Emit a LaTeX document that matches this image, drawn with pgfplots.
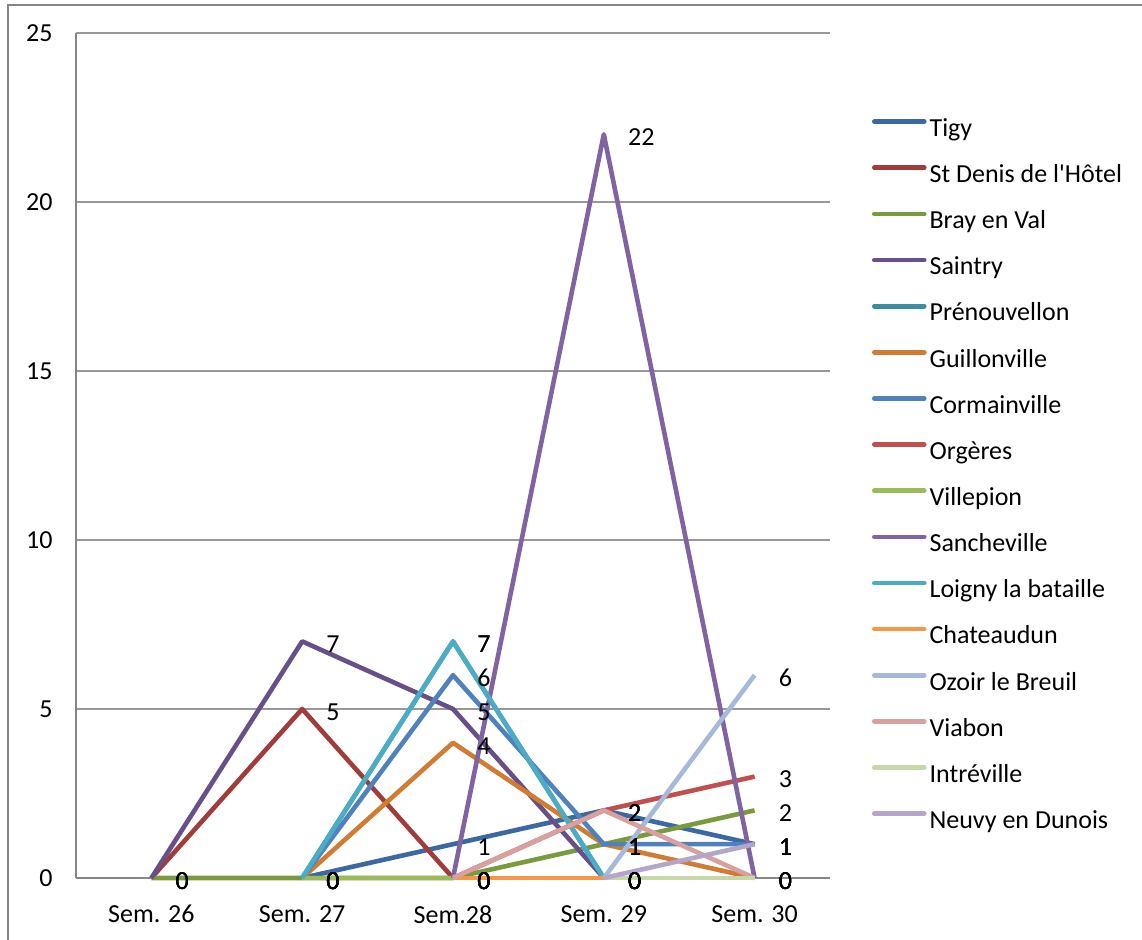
\documentclass[border=0pt]{standalone}
\usepackage{pgfplots}
\pgfplotsset{compat=1.18}
\usepackage{fontspec}
\setmainfont{Carlito}
\definecolor{cA}{HTML}{3A69A3}
\definecolor{cB}{HTML}{A03C3A}
\definecolor{cC}{HTML}{7A9A3E}
\definecolor{cD}{HTML}{674F87}
\definecolor{cE}{HTML}{3A8EA3}
\definecolor{cF}{HTML}{D07C33}
\definecolor{cG}{HTML}{4F81BD}
\definecolor{cH}{HTML}{C0504D}
\definecolor{cI}{HTML}{9BBB59}
\definecolor{cJ}{HTML}{8064A2}
\definecolor{cK}{HTML}{4BACC6}
\definecolor{cL}{HTML}{F79646}
\definecolor{cM}{HTML}{A7B9D9}
\definecolor{cN}{HTML}{D8A09E}
\definecolor{cO}{HTML}{C5D8A6}
\definecolor{cP}{HTML}{B3A6CA}
\definecolor{gridc}{HTML}{989898}
\definecolor{axisc}{HTML}{868686}
\newcommand{\lblfont}{\fontsize{13}{15}\selectfont}
\begin{document}
\begin{tikzpicture}[x=1pt,y=1pt]
\useasboundingbox (0,0) rectangle (571,470);
\draw[axisc, line width=1pt] (4,0) -- (4,467.5) -- (571,467.5);
\begin{axis}[
  at={(38pt,31pt)}, anchor=south west,
  scale only axis, width=377pt, height=422.5pt,
  xmin=-0.5, xmax=4.5, ymin=0, ymax=25,
  ytick={0,5,10,15,20,25},
  xtick={0,1,2,3,4},
  xticklabels={Sem. 26, Sem. 27, Sem.28, Sem. 29, Sem. 30},
  ymajorgrids, grid style={gridc, line width=0.6pt},
  axis x line*=bottom, axis y line*=left,
  axis line style={axisc, line width=0.75pt, -},
  major tick length=0pt,
  tick label style={font=\lblfont, text=black},
  /pgf/number format/assume math mode=true,
  yticklabel style={inner sep=0pt, xshift=-11.5pt},
  xticklabel style={inner sep=0pt, yshift=-13.5pt, anchor=north},
  clip=false,
  every axis plot/.append style={line width=2.3pt, line join=round, no markers},
  nodes near coords,
  nodes near coords style={font=\lblfont, text=black, anchor=west, inner sep=0pt, xshift=11pt, yshift=-1.5pt},
  legend cell align=left,
  legend style={draw=none, fill=none, at={(axis description cs:1.0557,0.8990)}, anchor=north west,
    inner sep=0pt, outer sep=0pt, row sep=11.37pt, column sep=1.5pt,
    font=\lblfont, nodes={inner sep=0pt, text height=9pt, text depth=2.7pt}},
  legend image code/.code={\draw[#1, line cap=round] (0pt,4.19pt) -- (25pt,4.19pt);},
]
\addplot[cA] coordinates {(1,0)(2,1)(3,2)(4,1)};
\addlegendentry{Tigy}
\addplot[cB] coordinates {(0,0)(1,5)(2,0)};
\addlegendentry{St Denis de l\textquotesingle Hôtel}
\addplot[cC] coordinates {(0,0)(1,0)(2,0)(3,1)(4,2)};
\addlegendentry{Bray en Val}
\addplot[cD] coordinates {(0,0)(1,7)(2,5)(3,0)};
\addlegendentry{Saintry}
\addplot[cE] coordinates {(1,0)(2,7)(3,0)};
\addlegendentry{Prénouvellon}
\addplot[cF] coordinates {(1,0)(2,4)(3,1)(4,0)};
\addlegendentry{Guillonville}
\addplot[cG] coordinates {(1,0)(2,6)(3,1)(4,1)};
\addlegendentry{Cormainville}
\addplot[cH] coordinates {(2,0)(3,2)(4,3)};
\addlegendentry{Orgères}
\addplot[cI] coordinates {(1,0)(2,0)};
\addlegendentry{Villepion}
\addplot[cJ] coordinates {(2,0)(3,22)(4,0)};
\addlegendentry{Sancheville}
\addplot[cK] coordinates {(1,0)(2,7)(3,0)};
\addlegendentry{Loigny la bataille}
\addplot[cL] coordinates {(2,0)(3,0)};
\addlegendentry{Chateaudun}
\addplot[cM] coordinates {(3,0)(4,6)};
\addlegendentry{Ozoir le Breuil}
\addplot[cN] coordinates {(2,0)(3,2)(4,0)};
\addlegendentry{Viabon}
\addplot[cO] coordinates {(3,0)(4,0)};
\addlegendentry{Intréville}
\addplot[cP] coordinates {(3,0)(4,1)};
\addlegendentry{Neuvy en Dunois}
\end{axis}
\end{tikzpicture}
\end{document}
